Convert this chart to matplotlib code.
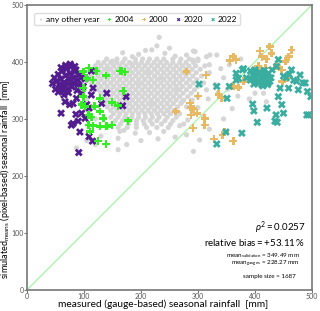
import numpy as np
import matplotlib.pyplot as plt

plt.rcParams['font.family'] = ['Lato', 'DejaVu Sans']
plt.rcParams['mathtext.fontset'] = 'custom'
plt.rcParams['mathtext.rm'] = 'Lato'
plt.rcParams['mathtext.it'] = 'Lato:italic'

# gray cloud ("any other year"), dense core given row by row
gray_levels = [405, 399, 393, 387, 381, 375, 369, 363, 357, 351, 345, 339, 333, 327,
               321, 315, 309, 303, 297, 291, 285]
gray_row_x = [
    [140, 158, 172, 190, 203, 215, 228, 240, 256, 270, 285, 300],
    [125, 135, 147, 158, 168, 180, 191, 201, 212, 223, 234, 245, 256, 268, 279, 292],
    [120, 130, 141, 152, 163, 174, 185, 196, 207, 218, 229, 240, 251, 262, 273, 284, 296, 312],
    [115, 125, 136, 147, 158, 169, 180, 191, 202, 213, 224, 235, 246, 257, 268, 279, 290, 304],
    [120, 130, 141, 152, 163, 174, 185, 196, 207, 218, 229, 240, 251, 262, 273, 284, 297, 320],
    [112, 125, 136, 147, 158, 169, 180, 191, 202, 213, 224, 235, 246, 257, 268, 279, 291, 306],
    [118, 130, 141, 152, 163, 174, 185, 196, 207, 218, 229, 240, 251, 262, 273, 285, 298],
    [113, 125, 136, 147, 158, 169, 180, 191, 202, 213, 224, 235, 246, 257, 268, 280, 292, 310],
    [120, 130, 141, 152, 163, 174, 185, 196, 207, 218, 229, 240, 251, 262, 273, 286, 300],
    [125, 136, 147, 158, 169, 180, 191, 202, 213, 224, 235, 246, 257, 268, 280, 294, 315],
    [130, 141, 152, 163, 174, 185, 196, 207, 218, 229, 240, 251, 262, 274, 288],
    [136, 147, 158, 169, 180, 191, 202, 213, 224, 235, 246, 257, 268, 282, 300],
    [141, 152, 163, 174, 185, 196, 207, 218, 229, 240, 251, 262, 275, 290],
    [136, 147, 158, 169, 180, 191, 202, 213, 224, 235, 246, 257, 270],
    [141, 152, 163, 174, 185, 196, 207, 218, 229, 240, 251, 264, 280],
    [147, 158, 169, 180, 191, 202, 213, 224, 235, 246, 258],
    [152, 163, 174, 185, 196, 207, 218, 229, 240, 252, 268],
    [147, 160, 172, 184, 196, 208, 220, 232, 246, 262],
    [155, 168, 180, 192, 204, 216, 228, 242, 256],
    [150, 164, 178, 192, 206, 220, 236, 252, 275],
    [160, 176, 192, 210, 228, 248],
]
# scattered gray points at the edges of the cloud
gray_edge_x = [232, 219, 242, 168, 150, 292, 315, 333, 196, 260, 280, 185, 208, 228, 250,
               300, 320, 340, 345, 330, 335, 318, 352, 300, 310, 290, 282, 268, 240, 215,
               190, 170, 160, 163, 292, 303, 87, 160, 130, 140, 120, 115, 105, 100, 95,
               260, 280, 230, 200, 175, 320, 345, 360, 370, 355, 375, 390, 400, 415, 420,
               120, 105, 295, 321, 291, 184, 211, 236, 263, 174, 221, 247, 196, 272, 143]
gray_edge_y = [443, 421, 415, 416, 401, 419, 409, 412, 413, 410, 412, 409, 420, 428, 424,
               402, 395, 388, 372, 360, 345, 335, 352, 320, 305, 310, 298, 288, 278, 276,
               275, 280, 266, 278, 243, 263, 249, 246, 270, 285, 300, 320, 335, 350, 365,
               268, 272, 265, 262, 255, 282, 300, 318, 340, 395, 405, 335, 345, 345, 330,
               255, 262, 418, 412, 403, 396, 383, 372, 352, 342, 326, 314, 360, 330, 388]

# 2020 (purple)
y2020_x = [113, 102, 99, 116, 113, 96, 67, 81, 105, 131, 140, 174, 168, 60, 86, 96, 102,
           81, 78, 93, 109, 115, 91, 87, 75, 109, 90,
           48, 55, 62, 70, 78, 86, 52, 60, 68, 76, 84, 92, 45, 57, 65, 73, 81, 89, 50, 58,
           66, 74, 82, 90, 55, 63, 71, 79, 60, 68, 76, 84, 65, 73, 95, 88]
y2020_y = [384, 370, 357, 354, 342, 345, 330, 327, 325, 327, 345, 339, 323, 310, 308, 310,
           301, 292, 289, 277, 269, 261, 241, 336, 325, 319, 296,
           372, 378, 384, 388, 392, 386, 366, 370, 376, 380, 383, 378, 362, 360, 364, 370,
           372, 368, 352, 356, 358, 362, 364, 360, 347, 350, 352, 356, 390, 394, 396, 392,
           342, 346, 372, 350]

# 2004 (green)
y2004_x = [122, 109, 139, 163, 172, 99, 105, 116, 169, 128, 149, 160, 99, 96, 119, 128,
           113, 134, 177, 108, 116, 128, 140, 149, 111, 125, 139, 99, 102, 108, 166]
y2004_y = [384, 389, 376, 384, 382, 383, 371, 368, 349, 336, 329, 323, 339, 325, 322,
           313, 303, 301, 297, 289, 288, 287, 287, 289, 278, 261, 256, 354, 322, 307, 384]

# 2000 (tan)
y2000_x = [409, 426, 429, 464, 459, 453, 420, 412, 362, 367, 356, 406, 418, 438, 447, 456,
           448, 415, 380, 371, 362, 336, 341, 314, 312, 312, 347, 328, 362, 280, 300, 286,
           292, 298, 288, 261, 291, 343, 287]
y2000_y = [419, 427, 415, 421, 409, 401, 405, 409, 409, 404, 402, 392, 389, 392, 386, 372,
           366, 366, 366, 355, 357, 343, 337, 377, 301, 289, 277, 265, 261, 383, 340, 328,
           318, 310, 307, 313, 284, 272, 320]

# 2022 (teal)
y2022_x = [367, 380, 333, 355, 351, 371, 397, 441, 438, 450, 464, 479, 473, 488, 492, 459,
           444, 441, 447, 450, 437, 439, 421, 396, 398, 404, 377, 494, 349, 333, 400, 412,
           426, 498, 302, 491, 435, 476, 484, 367, 378,
           392, 400, 408, 416, 424, 396, 404, 412, 420, 428, 392, 400, 408, 416, 424, 398,
           406, 414, 422, 385, 430, 455, 468, 460]
y2022_y = [380, 388, 357, 357, 336, 371, 377, 404, 392, 375, 386, 377, 366, 363, 348, 354,
           354, 339, 325, 310, 307, 294, 319, 326, 314, 294, 275, 307, 277, 256, 366, 360,
           366, 339, 361, 307, 296, 351, 363, 368, 386,
           384, 386, 382, 385, 380, 376, 378, 374, 377, 372, 368, 370, 366, 369, 364, 361,
           362, 358, 360, 372, 386, 372, 368, 378]

x_ticks = [0, 100, 200, 300, 400, 500]

gray_x = [x for row in gray_row_x for x in row] + gray_edge_x
gray_y = [y for y, row in zip(gray_levels, gray_row_x) for _ in row] + gray_edge_y

fig = plt.figure(figsize=(3.2, 3.11), dpi=100)
ax = fig.add_axes([0.084, 0.0675, 0.891, 0.917])

ax.plot([0, 500], [0, 500], color="#98f598", lw=0.8, zorder=1)
ax.scatter(gray_x, gray_y, s=14, color="#d6d6d6", edgecolors="none", zorder=2,
           label="any other year")
ax.scatter(y2004_x, y2004_y, s=32, marker="P", color="#33ee22", edgecolors="none",
           zorder=4, label="2004")
ax.scatter(y2000_x, y2000_y, s=32, marker="P", color="#e8b963", edgecolors="none",
           zorder=3, label="2000")
ax.scatter(y2020_x, y2020_y, s=32, marker="X", color="#521c8f", edgecolors="none",
           zorder=3, label="2020")
ax.scatter(y2022_x, y2022_y, s=32, marker="X", color="#39ada0", edgecolors="none",
           zorder=4, label="2022")

ax.set_xlim(0, 500)
ax.set_ylim(0, 500)
ax.set_xticks(x_ticks)
ax.set_yticks(x_ticks)
ax.tick_params(labelsize=5, labelcolor="#555555", color="#777777", length=2, pad=0)
for sp in ax.spines.values():
    sp.set_color("#777777")
    sp.set_linewidth(1.2)

ax.set_xlabel("measured (gauge-based) seasonal rainfall  [mm]", fontsize=7.3)
ax.set_ylabel("simulated$_{\\mathrm{means}}$ (pixel-based) seasonal rainfall  [mm]",
              fontsize=6.5)
ax.xaxis.set_label_coords(0.477, -0.033)
ax.yaxis.set_label_coords(-0.052, 0.39)

leg = ax.legend(loc="upper left", ncol=5, fontsize=6, markerscale=0.45, handletextpad=0.1,
                columnspacing=0.7, borderpad=0.3, handlelength=1.0, labelspacing=0.2,
                bbox_to_anchor=(0.012, 0.985), framealpha=1, edgecolor="#dddddd")

ax.text(488, 110, r"$\rho^2 = 0.0257$", ha="right", va="center", fontsize=7)
ax.text(488, 84, r"relative bias$= +53.11\,\%$", ha="right", va="center", fontsize=7)
ax.text(479, 60, r"mean$_{\mathrm{validation}}$ = 349.49 mm", ha="right", va="center",
        fontsize=4.5)
ax.text(479, 46, r"mean$_{\mathrm{gauges}}$ = 228.27 mm", ha="right", va="center",
        fontsize=4.5)
ax.text(472, 23, "sample size = 1687", ha="right", va="center", fontsize=4.5)

fig.savefig("out.png", dpi=100)
